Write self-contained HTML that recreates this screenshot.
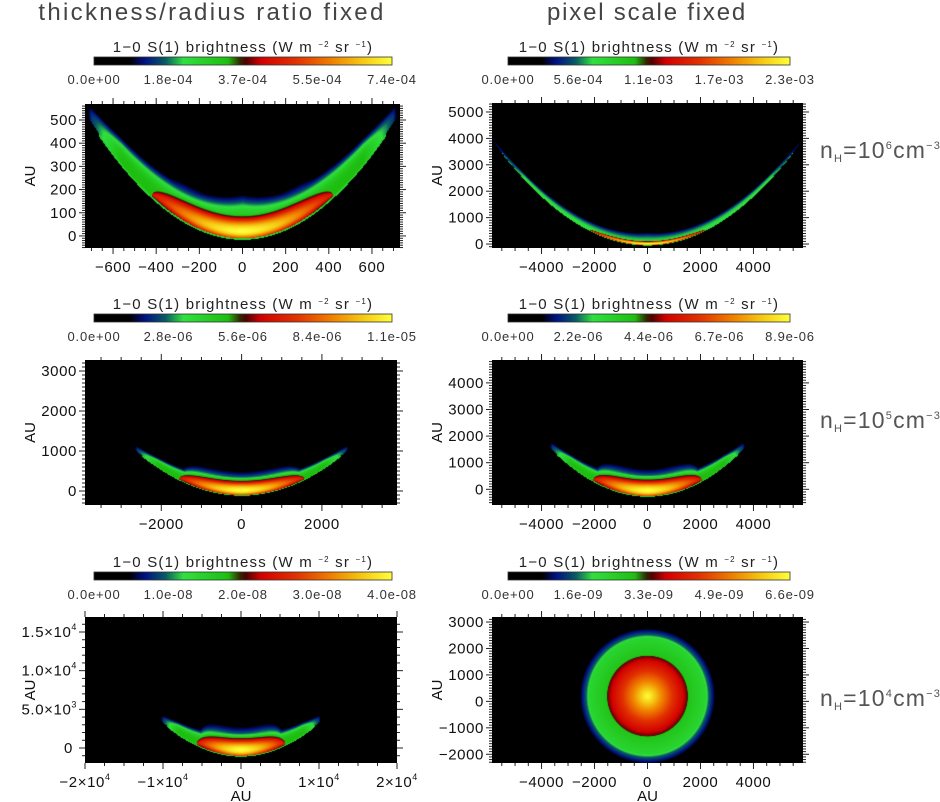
<!DOCTYPE html>
<html><head><meta charset="utf-8">
<style>
html,body{margin:0;padding:0;background:#fff;}
#wrap{position:relative;width:940px;height:802px;overflow:hidden;font-family:"Liberation Sans",sans-serif;}
canvas{position:absolute;}
svg{position:absolute;left:0;top:0;}
</style></head>
<body>
<div id="wrap">
<svg id="svg" width="940" height="802"></svg>
</div>
<script>
// ---- data ----
const panelTitles = ["thickness/radius ratio fixed", "pixel scale fixed"];
const densityLabels = ["6", "5", "4"];
const cbTicks = [
  ["0.0e+00","1.8e-04","3.7e-04","5.5e-04","7.4e-04"],
  ["0.0e+00","5.6e-04","1.1e-03","1.7e-03","2.3e-03"],
  ["0.0e+00","2.8e-06","5.6e-06","8.4e-06","1.1e-05"],
  ["0.0e+00","2.2e-06","4.4e-06","6.7e-06","8.9e-06"],
  ["0.0e+00","1.0e-08","2.0e-08","3.0e-08","4.0e-08"],
  ["0.0e+00","1.6e-09","3.3e-09","4.9e-09","6.6e-09"]
];
const xRanges = [[-730,730],[-5870,5870],[-3900,3870],[-5870,5870],[-20000,20000],[-5870,5870]];
const yRanges = [[-52,569],[-150,5340],[-350,3275],[-590,4860],[-1940,16940],[-2330,3190]];
const xMajor = [200,2000,2000,2000,10000,2000];
const yMajor = [100,1000,1000,1000,5000,1000];
// bow-shock emission parameters (panels 0-4)
const curvature = [1.02e-3, 1.16e-4, 1.6e-4, 1.35e-4, 4.3e-5];
const apexY = [-10, -40, -100, -250, -1000];
const halfLength = [700, 5800, 2600, 3600, 10000];
const envThick = [175, 480, 470, 780, 3100];
const coreThick = [100, 150, 375, 650, 2400];
const envAmp = [0.45, 0.3, 0.45, 0.45, 0.45];
const envTaper = [0.76, 0.88, 0.75, 0.75, 0.75];
const coreFrac = [0.6, 0.38, 0.6, 0.57, 0.57];
// compact source (panel 5) radial profile
const blobCenterY = 200;
const blobRadius = [0, 500, 1000, 1500, 1550, 2200, 2300, 2500, 2700];
const blobLevel = [1, 0.82, 0.66, 0.52, 0.42, 0.35, 0.25, 0.15, 0];
// bottom-left tick labels
const blXLabels = [["−2×10","4"],["−1×10","4"],["0",""],["1×10","4"],["2×10","4"]];
const blYLabels = [["0",""],["5.0×10","3"],["1.0×10","4"],["1.5×10","4"]];

// ---- layout ----
const plots = [
  {x0:85,x1:400,y0:104,y1:248},{x0:492,x1:803,y0:103,y1:248},
  {x0:85,x1:397,y0:360,y1:505},{x0:492,x1:803,y0:360,y1:505},
  {x0:85,x1:397,y0:617,y1:763},{x0:492,x1:803,y0:617,y1:763}];
const cbs = [{x0:94,x1:392,y:57},{x0:508,x1:790,y:57},{x0:94,x1:392,y:314},{x0:508,x1:790,y:314},{x0:94,x1:392,y:572},{x0:508,x1:790,y:572}];

const cmapStops = [[0,[0,0,0]],[0.12,[0,0,0]],[0.17,[0,16,130]],[0.24,[10,90,100]],[0.3,[48,224,64]],[0.45,[30,190,16]],[0.49,[50,40,0]],[0.51,[80,0,0]],[0.56,[210,0,0]],[0.68,[225,50,0]],[0.8,[240,130,0]],[0.9,[245,200,20]],[1,[255,255,60]]];
function cmap(v){
  v=Math.max(0,Math.min(1,v));
  for(let i=1;i<cmapStops.length;i++){
    if(v<=cmapStops[i][0]){const a=cmapStops[i-1],b=cmapStops[i];const t=(v-a[0])/(b[0]-a[0]||1);
      return [0,1,2].map(k=>Math.round(a[1][k]+(b[1][k]-a[1][k])*t));}
  }
  return cmapStops[cmapStops.length-1][1];
}
function bowIntensity(p,x,y){
  const a=curvature[p], s=Math.abs(x)/halfLength[p];
  if(s>1.05) return 0;
  const sc=Math.min(s,1);
  const yp=apexY[p]+a*x*x;
  const d=(y-yp)/Math.sqrt(1+4*a*a*x*x);
  const te=envThick[p]*(1-envTaper[p]*sc);
  const amp=envAmp[p]*(sc<0.8?1:1-0.55*(sc-0.8)/0.2);
  const env=d<0?0:amp*Math.exp(-Math.pow(d/te,4));
  let core=0;const sr=coreFrac[p];
  if(s<sr && d>=0){
    const shape=Math.sqrt(Math.max(0,1-Math.pow(s/sr,4)));
    const tc=coreThick[p]*shape;
    const dc=0.3*tc;
    const pk=1-0.4*Math.pow(s/sr,1.5);
    const u=d<dc?(d-dc)/(0.5*tc):(d-dc)/(0.75*tc);
    core=pk*Math.exp(-u*u);
    if(core<0.5 && core>0.02) core=Math.max(core,0.5*Math.exp(-Math.pow(u/1.4,2)));
  }
  let I=Math.max(core,env);
  const e=0.04*envThick[p];
  if(d<0 && d>-e && s<0.95) I=Math.max(I,0.36);
  const fade=s>1?Math.max(0,(1.05-s)/0.05):1;
  return I*fade;
}
function blobIntensity(x,y){
  const r=Math.sqrt(x*x+(y-blobCenterY)*(y-blobCenterY));
  for(let i=1;i<blobRadius.length;i++){
    if(r<=blobRadius[i]){const t=(r-blobRadius[i-1])/(blobRadius[i]-blobRadius[i-1]);return blobLevel[i-1]+(blobLevel[i]-blobLevel[i-1])*t;}
  }
  return 0;
}
const wrap=document.getElementById('wrap');
const svg=document.getElementById('svg');
const NS="http://www.w3.org/2000/svg";
function el(tag,attrs,parent){const e=document.createElementNS(NS,tag);for(const k in attrs)e.setAttribute(k,attrs[k]);(parent||svg).appendChild(e);return e;}

plots.forEach((P,p)=>{
  const W=P.x1-P.x0,H=P.y1-P.y0;
  const c=document.createElement('canvas');c.width=W;c.height=H;
  c.style.left=P.x0+'px';c.style.top=P.y0+'px';
  
  
  wrap.insertBefore(c,svg);
  const ctx=c.getContext('2d');const img=ctx.createImageData(W,H);
  const xr=xRanges[p],yr=yRanges[p];
  for(let j=0;j<H;j++)for(let i=0;i<W;i++){
    const x=xr[0]+(i+0.5)/W*(xr[1]-xr[0]);
    const y=yr[1]-(j+0.5)/H*(yr[1]-yr[0]);
    const v=p<5?bowIntensity(p,x,y):blobIntensity(x,y);
    const col=cmap(v);const k=(j*W+i)*4;
    img.data[k]=col[0];img.data[k+1]=col[1];img.data[k+2]=col[2];img.data[k+3]=255;
  }
  ctx.putImageData(img,0,0);
  const sx=v=>P.x0+(v-xr[0])/(xr[1]-xr[0])*W;
  const sy=v=>P.y1-(v-yr[0])/(yr[1]-yr[0])*H;
  const g=el('g',{});
  
  
  const xm=xMajor[p], xmin=xm/4;
  for(let v=Math.ceil(xr[0]/xmin)*xmin; v<=xr[1]; v+=xmin){
    const major=Math.abs(v/xm-Math.round(v/xm))<1e-6;const L=major?6:3;const X=sx(v);
    el('line',{x1:X,x2:X,y1:P.y1,y2:P.y1+L,stroke:'#222','stroke-width':1},g);
    el('line',{x1:X,x2:X,y1:P.y0,y2:P.y0-L,stroke:'#222','stroke-width':1},g);
    if(major){
      let lab=el('text',{x:X,y:P.y1+24,'text-anchor':'middle','font-size':15,fill:'#111','letter-spacing':0.6},g);
      if(p===4){const idx=Math.round(v/xm)+2;const t=blXLabels[idx];
        lab.appendChild(document.createTextNode(t[0]));
        if(t[1]){const s=el('tspan',{dy:-7,'font-size':9},lab);s.textContent=t[1];}
      } else {
        lab.textContent=(v<0?'−':'')+Math.abs(Math.round(v));
      }
      
      
    }
  }
  const ym=yMajor[p], ymin=p===4?ym/5:ym/10;
  for(let v=Math.ceil(yr[0]/ymin)*ymin; v<=yr[1]; v+=ymin){
    const major=Math.abs(v/ym-Math.round(v/ym))<1e-6;const L=major?6:3;const Y=sy(v);
    el('line',{x1:P.x0,x2:P.x0-L,y1:Y,y2:Y,stroke:'#222','stroke-width':1},g);
    el('line',{x1:P.x1,x2:P.x1+L,y1:Y,y2:Y,stroke:'#222','stroke-width':1},g);
    if(major){
      let lab=el('text',{x:P.x0-8,y:Y+5,'text-anchor':'end','font-size':15,fill:'#111','letter-spacing':0.6},g);
      if(p===4){const t=blYLabels[Math.round(v/ym)];
        lab.appendChild(document.createTextNode(t[0]));
        if(t[1]){const s=el('tspan',{dy:-7,'font-size':9},lab);s.textContent=t[1];}
        else lab.setAttribute('x',P.x0-12);
      } else lab.textContent=(v<0?'−':'')+Math.abs(Math.round(v));
      
      
    }
  }
  const yl=el('text',{x:0,y:0,transform:`translate(${P.x0-50},${(P.y0+P.y1)/2}) rotate(-90)`,'text-anchor':'middle','font-size':15,fill:'#111'},g);
  yl.textContent='AU';
  
  
  if(p>=4){const xl=el('text',{x:(P.x0+P.x1)/2,y:801,'text-anchor':'middle','font-size':15,fill:'#111'},g);
    xl.textContent='AU';
    
    }
  const C=cbs[p];
  const cg=el('g',{});
  
  
  const gid='cbg'+p;const lg=el('linearGradient',{id:gid,x1:0,x2:1,y1:0,y2:0},cg);
  cmapStops.forEach(s=>{const c=s[1];el('stop',{offset:s[0],'stop-color':`rgb(${c[0]},${c[1]},${c[2]})`},lg);});
  el('rect',{x:C.x0,y:C.y,width:C.x1-C.x0,height:8,fill:`url(#${gid})`,stroke:'#333','stroke-width':0.8},cg);
  const tt=el('text',{x:(C.x0+C.x1)/2,y:C.y-5,'text-anchor':'middle','font-size':15,fill:'#222','letter-spacing':1.2},cg);
  tt.appendChild(document.createTextNode('1−0 S(1) brightness (W m '));
  const s1=el('tspan',{dy:-5,'font-size':8},tt);s1.textContent='−2';
  const s2=el('tspan',{dy:5},tt);s2.textContent=' sr ';
  const s3=el('tspan',{dy:-5,'font-size':8},tt);s3.textContent='−1';
  const s4=el('tspan',{dy:5},tt);s4.textContent=')';
  
  
  cbTicks[p].forEach((t,i)=>{
    const X=C.x0+i/(cbTicks[p].length-1)*(C.x1-C.x0);
    const tl=el('text',{x:X,y:C.y+27,'text-anchor':'middle','font-size':13,fill:'#333','letter-spacing':0.8},cg);
    tl.textContent=t;
    
    
  });
});
[[212,'thickness/radius ratio fixed',2.3],[647,'pixel scale fixed',1.8]].forEach(([x,t,ls],i)=>{
  const e=el('text',{x:x,y:20,'text-anchor':'middle','font-size':24,fill:'#444','letter-spacing':ls});
  e.textContent=t;
  
  
});
[158,428,706].forEach((y,i)=>{
  const e=el('text',{x:820,y:y,'font-size':23,fill:'#555','letter-spacing':1.2});
  e.appendChild(document.createTextNode('n'));
  const a=el('tspan',{dy:4,'font-size':11},e);a.textContent='H';
  const b=el('tspan',{dy:-4},e);b.textContent='=10';
  const c=el('tspan',{dy:-9,'font-size':11},e);c.textContent=densityLabels[i];
  const d=el('tspan',{dy:9},e);d.textContent='cm';
  const f=el('tspan',{dy:-9,'font-size':11},e);f.textContent='−3';
  
  
});
</script>
</body></html>
